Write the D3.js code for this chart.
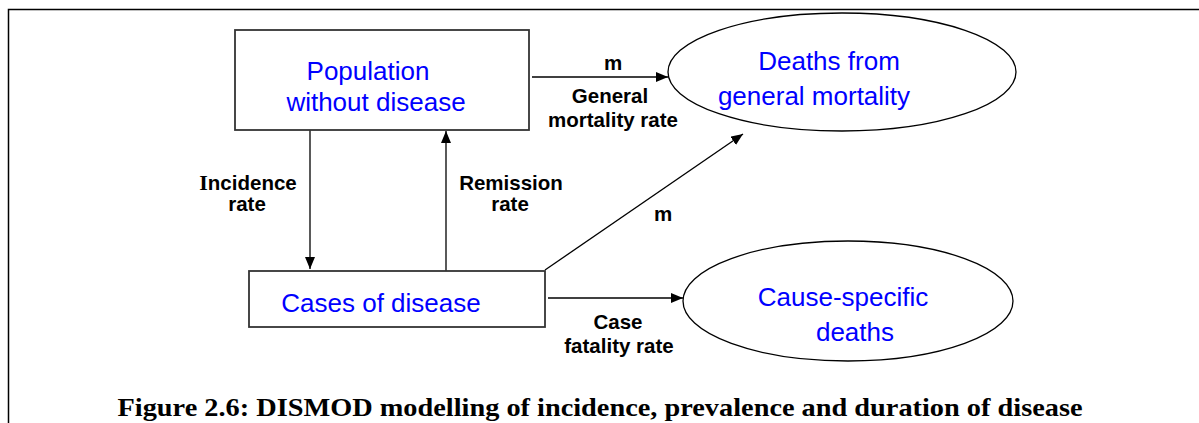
<!DOCTYPE html>
<html>
<head>
<meta charset="utf-8">
<script src="https://cdn.jsdelivr.net/npm/d3@7"></script>
<style>
  body { margin: 0; background: #fff; }
  svg { display: block; }
  .node-label { font-family: "Liberation Sans", Arial, sans-serif; font-size: 26px; fill: #0000ff; }
  .edge-label { font-family: "Liberation Sans", Arial, sans-serif; font-size: 20.5px; font-weight: bold; fill: #000; }
  .caption { font-family: "Liberation Serif", "DejaVu Serif", serif; font-size: 25px; font-weight: bold; fill: #000; }
</style>
</head>
<body>
<div id="chart"></div>
<script>
// diagram content
const boxNames = ["pop", "cases"];
const boxLabels = [["Population", "without disease"], ["Cases of disease"]];
const ovalNames = ["gen", "cause"];
const ovalLabels = [["Deaths from", "general mortality"], ["Cause-specific", "deaths"]];
const edgeNames = ["incidence", "remission", "general", "m2", "fatality"];
const edgeLabels = [["Incidence", "rate"], ["Remission", "rate"], ["m", "General", "mortality rate"], ["m"], ["Case", "fatality rate"]];
const captionText = "Figure 2.6: DISMOD modelling of incidence, prevalence and duration of disease";

// layout (pixel grid)
const boxLayout = {
  pop:   { x: 235, y: 30,  w: 294, h: 100, lines: [[368, 80], [376, 111]] },
  cases: { x: 249, y: 271, w: 296, h: 56,  lines: [[381, 312]] }
};
const ovalLayout = {
  gen:   { cx: 842, cy: 72,  rx: 174, ry: 59, lines: [[829, 70], [814, 105]] },
  cause: { cx: 848, cy: 301, rx: 165, ry: 60, lines: [[843, 306], [855, 341]] }
};
const edgeLayout = {
  incidence: { from: [310, 130], to: [310, 269], lines: [[248, 190], [247, 211]] },
  remission: { from: [446, 271], to: [446, 131], lines: [[511, 190], [510, 211]] },
  general:   { from: [532, 77],  to: [668, 77],  lines: [[613, 70], [610, 103], [613, 127]] },
  m2:        { from: [545, 270], to: [743, 134], lines: [[663, 221]] },
  fatality:  { from: [548, 298], to: [683, 298], lines: [[618, 329], [619, 353]] }
};

const W = 1199, H = 423;
const svg = d3.select("#chart").append("svg").attr("width", W).attr("height", H);

svg.append("defs").append("marker")
  .attr("id", "arrow")
  .attr("markerUnits", "userSpaceOnUse")
  .attr("viewBox", "0 0 12 10")
  .attr("refX", 12).attr("refY", 5)
  .attr("markerWidth", 12).attr("markerHeight", 10)
  .attr("orient", "auto")
  .append("path").attr("d", "M0,0L12,5L0,10Z").attr("fill", "#000");

// outer frame (top + left edges)
svg.append("path")
  .attr("d", "M8.5," + H + "V9.5H" + W)
  .attr("fill", "none").attr("stroke", "#000").attr("stroke-width", 1.5);

// edges
const edges = svg.append("g").selectAll("g")
  .data(edgeNames.map((n, i) => ({ name: n, labels: edgeLabels[i], lay: edgeLayout[n] })))
  .join("g");
edges.append("line")
  .attr("x1", d => d.lay.from[0]).attr("y1", d => d.lay.from[1])
  .attr("x2", d => d.lay.to[0]).attr("y2", d => d.lay.to[1])
  .attr("stroke", "#000").attr("stroke-width", 1.3)
  .attr("marker-end", "url(#arrow)");
edges.each(function(d) {
  const g = d3.select(this);
  d.labels.forEach((t, i) => {
    const txt = g.append("text").attr("class", "edge-label")
      .attr("x", d.lay.lines[i][0]).attr("y", d.lay.lines[i][1])
      .attr("text-anchor", "middle");
    if (t === "Incidence") {
      txt.append("tspan").style("font-family", "'Liberation Serif', serif").style("font-size", "22px").text("I");
      txt.append("tspan").text("ncidence");
    } else {
      txt.text(t);
    }
  });
});

// boxes
const boxes = svg.append("g").selectAll("g")
  .data(boxNames.map((n, i) => ({ name: n, labels: boxLabels[i], lay: boxLayout[n] })))
  .join("g");
boxes.append("rect")
  .attr("x", d => d.lay.x).attr("y", d => d.lay.y)
  .attr("width", d => d.lay.w).attr("height", d => d.lay.h)
  .attr("fill", "#fff").attr("stroke", "#333").attr("stroke-width", 1.8);
boxes.each(function(d) {
  const g = d3.select(this);
  d.labels.forEach((t, i) => {
    g.append("text").attr("class", "node-label")
      .attr("x", d.lay.lines[i][0]).attr("y", d.lay.lines[i][1])
      .attr("text-anchor", "middle").text(t);
  });
});

// ovals
const ovals = svg.append("g").selectAll("g")
  .data(ovalNames.map((n, i) => ({ name: n, labels: ovalLabels[i], lay: ovalLayout[n] })))
  .join("g");
ovals.append("ellipse")
  .attr("cx", d => d.lay.cx).attr("cy", d => d.lay.cy)
  .attr("rx", d => d.lay.rx).attr("ry", d => d.lay.ry)
  .attr("fill", "#fff").attr("stroke", "#000").attr("stroke-width", 1.3);
ovals.each(function(d) {
  const g = d3.select(this);
  d.labels.forEach((t, i) => {
    g.append("text").attr("class", "node-label")
      .attr("x", d.lay.lines[i][0]).attr("y", d.lay.lines[i][1])
      .attr("text-anchor", "middle").text(t);
  });
});

// caption
svg.append("text").attr("class", "caption")
  .attr("x", 600).attr("y", 416)
  .attr("text-anchor", "middle")
  .attr("textLength", 965).attr("lengthAdjust", "spacingAndGlyphs")
  .text(captionText);
</script>
</body>
</html>
